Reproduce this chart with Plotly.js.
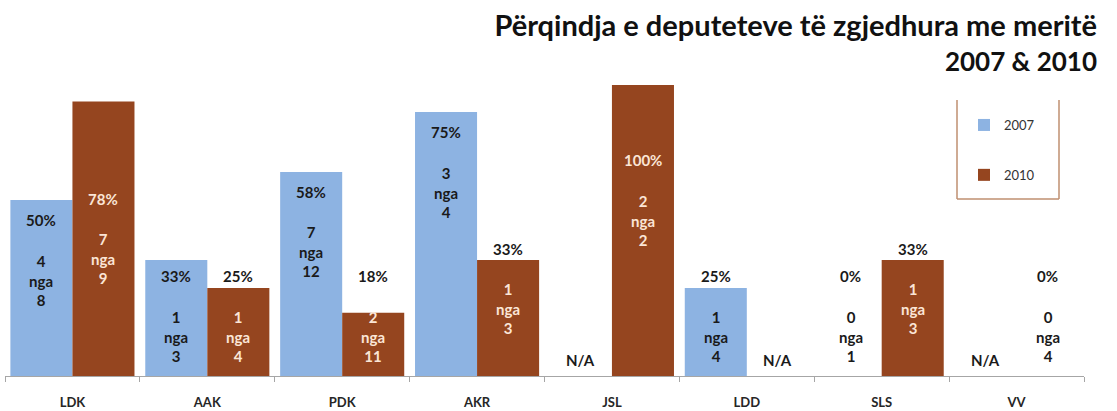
<!DOCTYPE html>
<html>
<head>
<meta charset="utf-8">
<script src="https://cdn.plot.ly/plotly-3.0.1.min.js"></script>
<style>html,body{margin:0;padding:0;background:#fff;}#chart{width:1117px;height:411px;}</style>
</head>
<body>
<div id="chart"></div>
<script>
const categories = ['LDK', 'AAK', 'PDK', 'AKR', 'JSL', 'LDD', 'SLS', 'VV'];
const seriesNames = ['2007', '2010'];
const pct2007 = [50, 33, 58, 75, null, 25, 0, null];
const pct2010 = [78, 25, 18, 33, 100, null, 33, 0];
const elected2007 = [4, 1, 7, 3, null, 1, 0, null];
const total2007 = [8, 3, 12, 4, null, 4, 1, null];
const elected2010 = [7, 1, 2, 1, 2, null, 1, 0];
const total2010 = [9, 4, 11, 3, 2, null, 3, 4];
const titleLine1 = 'Përqindja e deputeteve të zgjedhura me meritë';
const titleLine2 = '2007 &amp; 2010';
const naLabel = 'N/A';
const ofWord = 'nga';

const W = 1117, Hh = 411;
const margin = {l: 5, r: 33, t: 85, b: 35, pad: 0};
const yMax = 82.7;
const bargap = 0.08;
const plotH = Hh - margin.t - margin.b;
const ppu = plotH / yMax;
const FONT = 'Lato, "Open Sans", sans-serif';
const blue = '#8DB3E2', brown = '#95451F';
const cream = '#FBE5D6', dark = '#1A1A1A';
const pitch = 20;
const LBL = 15;

const traces = [
  {type: 'bar', name: seriesNames[0], x: categories, y: pct2007, marker: {color: blue}, legendgroup: 'a', hoverinfo: 'none'},
  {type: 'bar', name: seriesNames[1], x: categories, y: pct2010, marker: {color: brown}, legendgroup: 'b', hoverinfo: 'none'}
];

const annotations = [];
const off = (1 - bargap) / 4;
function addLabels(vals, el, tot, series) {
  vals.forEach((v, i) => {
    const x = i + (series === 0 ? -off : off);
    if (v === null) {
      annotations.push({x: x, y: 16 / ppu, xref: 'x', yref: 'y', text: naLabel, showarrow: false,
        yanchor: 'middle', font: {family: FONT, size: LBL, color: dark, weight: 700}});
      return;
    }
    const topOff = v * ppu;
    let c1;
    if (series === 0) {
      c1 = Math.max(topOff - 20, 100);
    } else {
      c1 = topOff > 150 ? topOff / 2 + 2 * pitch : Math.max(topOff + 11, 100);
    }
    const pctColor = (series === 1 && c1 < topOff) ? cream : dark;
    const cntColor = (series === 1 && (c1 - 2 * pitch) < topOff) ? cream : dark;
    annotations.push({x: x, y: c1 / ppu, xref: 'x', yref: 'y', text: v + '%', showarrow: false,
      yanchor: 'middle', font: {family: FONT, size: LBL, color: pctColor, weight: 700}});
    annotations.push({x: x, y: (c1 - 3 * pitch) / ppu, xref: 'x', yref: 'y',
      text: el[i] + '<br>' + ofWord + '<br>' + tot[i], showarrow: false,
      yanchor: 'middle', font: {family: FONT, size: LBL, color: cntColor, weight: 700}});
  });
}
addLabels(pct2007, elected2007, total2007, 0);
addLabels(pct2010, elected2010, total2010, 1);

const pw = W - margin.l - margin.r;
const px2paperX = p => (p - margin.l) / pw;
const px2paperY = p => (Hh - margin.b - p) / plotH;
const boxColor = '#BF8F70';
const shapes = [
  {type: 'line', xref: 'paper', yref: 'paper', x0: px2paperX(957), x1: px2paperX(957), y0: px2paperY(100), y1: px2paperY(199), line: {color: boxColor, width: 1.5}},
  {type: 'line', xref: 'paper', yref: 'paper', x0: px2paperX(1059), x1: px2paperX(1059), y0: px2paperY(100), y1: px2paperY(199), line: {color: boxColor, width: 1.5}},
  {type: 'line', xref: 'paper', yref: 'paper', x0: px2paperX(957), x1: px2paperX(1059), y0: px2paperY(199), y1: px2paperY(199), line: {color: boxColor, width: 1.5}}
];

const layout = {
  width: W, height: Hh, margin: margin,
  paper_bgcolor: '#fff', plot_bgcolor: '#fff',
  barmode: 'group', bargap: bargap, bargroupgap: 0,
  showlegend: true,
  legend: {x: px2paperX(964), y: px2paperY(110), xanchor: 'left', yanchor: 'top',
    traceorder: 'grouped', tracegroupgap: 30, bgcolor: 'rgba(0,0,0,0)',
    font: {family: FONT, size: 13, color: '#333333'}},
  title: {text: '<span style="font-size:29px">' + titleLine1 + '</span><br><span style="font-size:26px">' + titleLine2 + '</span>',
    xref: 'container', yref: 'container',
    x: 1097 / W, xanchor: 'right', y: 1 - 36 / Hh, yanchor: 'top',
    font: {family: FONT, size: 27, color: '#111', weight: 700}},
  xaxis: {type: 'category', showline: true, linecolor: '#A6A6A6', linewidth: 1,
    ticks: 'outside', tickson: 'boundaries', ticklen: 5, tickcolor: '#A6A6A6',
    ticklabelstandoff: 14,
    tickfont: {family: FONT, size: 13, color: '#262626', weight: 700},
    showgrid: false, zeroline: false, fixedrange: true},
  yaxis: {range: [0, yMax], visible: false, showgrid: false, zeroline: false, fixedrange: true},
  annotations: annotations,
  shapes: shapes
};

Plotly.newPlot('chart', traces, layout, {displayModeBar: false, staticPlot: true});
</script>
</body>
</html>
